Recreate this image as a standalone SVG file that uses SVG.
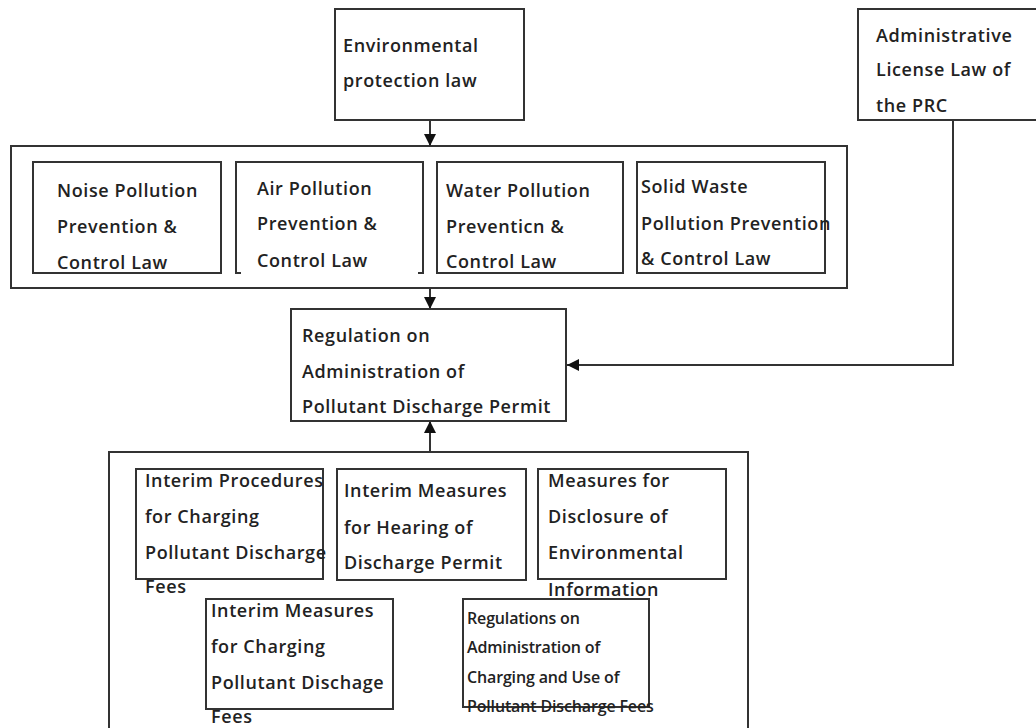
<svg xmlns="http://www.w3.org/2000/svg" width="1036" height="728" viewBox="0 0 1036 728">
  <style>
    .box { fill: #fff; stroke: #333; stroke-width: 2; }
    .frame { fill: none; stroke: #333; stroke-width: 2; }
    .lbl { font-family: "Open Sans", "Liberation Sans", sans-serif; font-weight: 600; font-size: 18px; letter-spacing: 0.6px; fill: #222; }
    .sm { font-family: "Open Sans", "Liberation Sans", sans-serif; font-weight: 600; font-size: 16px; fill: #222; letter-spacing: -0.15px; }
    .wire { fill: none; stroke: #333; stroke-width: 2; }
  </style>
  <defs>
    <marker id="arrow" viewBox="0 0 10 10" refX="10" refY="5" markerUnits="userSpaceOnUse" markerWidth="13" markerHeight="12" orient="auto">
      <path d="M0,0 L10,5 L0,10 z" fill="#111"/>
    </marker>
  </defs>
  <rect width="1036" height="728" fill="#fff"/>

  <!-- group frames -->
  <rect id="group-pollution-laws" class="frame" x="11" y="146" width="836" height="142"/>
  <rect id="group-supporting-rules" class="frame" x="109" y="452" width="639" height="290"/>

  <g id="connectors">
    <path class="wire" d="M430,120 V146" marker-end="url(#arrow)"/>
    <path class="wire" d="M430,288 V309" marker-end="url(#arrow)"/>
    <path class="wire" d="M430,452 V421" marker-end="url(#arrow)"/>
    <path class="wire" d="M953,120 V365 H567" marker-end="url(#arrow)"/>
  </g>

  <g id="env-protection-law">
    <rect class="box" x="335" y="9" width="189" height="111"/>
    <text class="lbl" x="343" y="52">Environmental</text>
    <text class="lbl" x="343" y="87">protection law</text>
  </g>

  <g id="admin-license-law">
    <rect class="box" x="858" y="9" width="190" height="111"/>
    <text class="lbl" x="876" y="42">Administrative</text>
    <text class="lbl" x="876" y="76">License Law of</text>
    <text class="lbl" x="876" y="112">the PRC</text>
  </g>

  <g id="noise-law">
    <rect class="box" x="33" y="162" width="188" height="111"/>
    <text class="lbl" x="57" y="197">Noise Pollution</text>
    <text class="lbl" x="57" y="233">Prevention &amp;</text>
    <text class="lbl" x="57" y="269">Control Law</text>
  </g>

  <g id="air-law">
    <path class="frame" d="M241,273 H236 V162 H423 V273 H418"/>
    <text class="lbl" x="257" y="195">Air Pollution</text>
    <text class="lbl" x="257" y="230">Prevention &amp;</text>
    <text class="lbl" x="257" y="267">Control Law</text>
  </g>

  <g id="water-law">
    <rect class="box" x="437" y="162" width="186" height="111"/>
    <text class="lbl" x="446" y="197">Water Pollution</text>
    <text class="lbl" x="446" y="233">Preventicn &amp;</text>
    <text class="lbl" x="446" y="268">Control Law</text>
  </g>

  <g id="solid-waste-law">
    <rect class="box" x="637" y="162" width="188" height="111"/>
    <text class="lbl" x="641" y="193">Solid Waste</text>
    <text class="lbl" x="641" y="230">Pollution Prevention</text>
    <text class="lbl" x="641" y="265">&amp; Control Law</text>
  </g>

  <g id="discharge-permit-regulation">
    <rect class="box" x="291" y="309" width="275" height="112"/>
    <text class="lbl" x="302" y="342">Regulation on</text>
    <text class="lbl" x="302" y="378">Administration of</text>
    <text class="lbl" x="302" y="413">Pollutant Discharge Permit</text>
  </g>

  <g id="interim-procedures-fees">
    <rect class="box" x="136" y="469" width="187" height="110"/>
    <text class="lbl" x="145" y="487">Interim Procedures</text>
    <text class="lbl" x="145" y="523">for Charging</text>
    <text class="lbl" x="145" y="559">Pollutant Discharge</text>
    <text class="lbl" x="145" y="593">Fees</text>
  </g>

  <g id="interim-hearing">
    <rect class="box" x="337" y="469" width="189" height="111"/>
    <text class="lbl" x="344" y="497">Interim Measures</text>
    <text class="lbl" x="344" y="534">for Hearing of</text>
    <text class="lbl" x="344" y="569">Discharge Permit</text>
  </g>

  <g id="disclosure-measures">
    <rect class="box" x="538" y="469" width="188" height="110"/>
    <text class="lbl" x="548" y="487">Measures for</text>
    <text class="lbl" x="548" y="523">Disclosure of</text>
    <text class="lbl" x="548" y="559">Environmental</text>
    <text class="lbl" x="548" y="596">Information</text>
  </g>

  <g id="interim-charging-fees">
    <rect class="box" x="206" y="599" width="187" height="110"/>
    <text class="lbl" x="211" y="617">Interim Measures</text>
    <text class="lbl" x="211" y="653">for Charging</text>
    <text class="lbl" x="211" y="689">Pollutant Dischage</text>
    <text class="lbl" x="211" y="723">Fees</text>
  </g>

  <g id="fee-use-regulations">
    <rect class="box" x="463" y="599" width="186" height="108"/>
    <text class="sm" x="467" y="624">Regulations on</text>
    <text class="sm" x="467" y="653">Administration of</text>
    <text class="sm" x="467" y="683">Charging and Use of</text>
    <text class="sm" x="467" y="712">Pollutant Discharge Fees</text>
  </g>
</svg>
